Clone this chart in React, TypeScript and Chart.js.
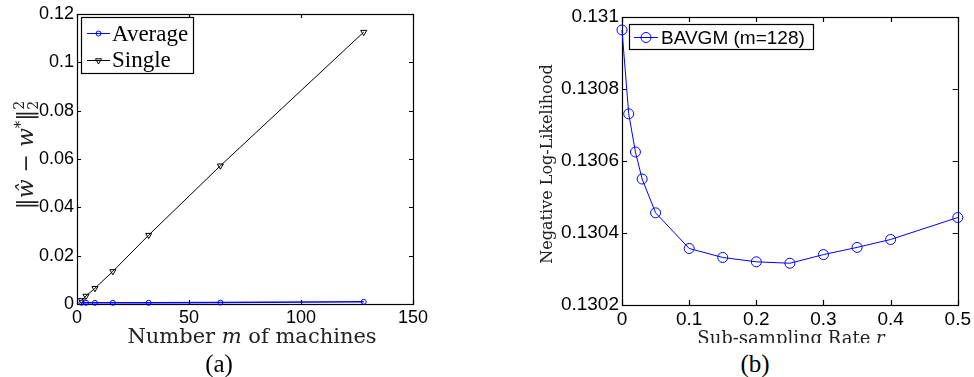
import React, { useEffect, useRef } from 'react';
import { Chart, registerables } from 'chart.js';

Chart.register(...registerables);

// ---------- Data: panel (a) ----------
const machines = [2, 4, 8, 16, 32, 64, 128];
const averageError = [0.0005, 0.0005, 0.0005, 0.0005, 0.0005, 0.0006, 0.0009];
const singleError = [0.0015, 0.0033, 0.0065, 0.0135, 0.0285, 0.0572, 0.1125];
const leftXTicks = [0, 50, 100, 150];
const leftYTicks = [0, 0.02, 0.04, 0.06, 0.08, 0.1, 0.12];

// ---------- Data: panel (b) ----------
const rates = [0, 0.01, 0.02, 0.03, 0.05, 0.1, 0.15, 0.2, 0.25, 0.3, 0.35, 0.4, 0.5];
const bavgmNll = [
  0.130964, 0.130731, 0.130625, 0.13055, 0.130456, 0.130357, 0.130332, 0.13032,
  0.130316, 0.13034, 0.13036, 0.130382, 0.130443,
];
const rightXTicks = [0, 0.1, 0.2, 0.3, 0.4, 0.5];
const rightYTicks = [0.1302, 0.1304, 0.1306, 0.1308, 0.131];

const SANS = '"Liberation Sans", Arial, sans-serif';
const SERIF_TIMES = '"Liberation Serif", "Times New Roman", serif';
const SERIF_CM = '"DejaVu Serif", serif';

type Seg = { text: string; italic?: boolean; size?: number; dy?: number; noAdvance?: boolean };

function drawRich(
  ctx: CanvasRenderingContext2D,
  segs: Seg[],
  family: string,
  baseSize: number,
  color: string,
  cx: number,
  baseline: number,
  rotation: number
) {
  ctx.save();
  ctx.translate(cx, baseline);
  ctx.rotate(rotation);
  ctx.fillStyle = color;
  ctx.textBaseline = 'alphabetic';
  ctx.textAlign = 'left';
  const fontOf = (s: Seg) => `${s.italic ? 'italic ' : ''}${s.size ?? baseSize}px ${family}`;
  let total = 0;
  segs.forEach((s) => {
    ctx.font = fontOf(s);
    if (!s.noAdvance) total += ctx.measureText(s.text).width;
  });
  let x = -total / 2;
  segs.forEach((s) => {
    ctx.font = fontOf(s);
    ctx.fillText(s.text, x, s.dy ?? 0);
    if (!s.noAdvance) x += ctx.measureText(s.text).width;
  });
  ctx.restore();
}

function drawMarker(ctx: CanvasRenderingContext2D, style: string, x: number, y: number, r: number) {
  ctx.beginPath();
  if (style === 'circle') {
    ctx.arc(x, y, r, 0, Math.PI * 2);
  } else {
    for (let i = 0; i < 3; i++) {
      const ang = Math.PI + (i * 2 * Math.PI) / 3;
      const px = x + Math.sin(ang) * r;
      const py = y - Math.cos(ang) * r;
      if (i === 0) ctx.moveTo(px, py);
      else ctx.lineTo(px, py);
    }
    ctx.closePath();
  }
  ctx.stroke();
}

type LegendItem = { text: string; color: string; marker: string; radius: number; lineY: number; textBaseline: number };
type PanelDecor = {
  tickLength: number;
  legend: {
    x: number; y: number; w: number; h: number;
    lineX0: number; lineX1: number; textX: number; font: string;
    items: LegendItem[];
  };
  xTitle: { segs: Seg[]; size: number; cx: number; baseline: number };
  yTitle: { segs: Seg[]; size: number; cy: number; baseline: number };
};

function makeDecorPlugin(d: PanelDecor) {
  return {
    id: 'panelDecor',
    beforeDatasetsDraw(chart: any) {
      const { ctx, chartArea: a, scales } = chart;
      ctx.save();
      ctx.strokeStyle = '#000';
      ctx.lineWidth = 1.2;
      ctx.beginPath();
      const L = d.tickLength;
      scales.x.ticks.forEach((t: any) => {
        const px = Math.round(scales.x.getPixelForValue(t.value)) + 0.5;
        ctx.moveTo(px, a.bottom);
        ctx.lineTo(px, a.bottom - L);
        ctx.moveTo(px, a.top);
        ctx.lineTo(px, a.top + L);
      });
      scales.y.ticks.forEach((t: any) => {
        const py = Math.round(scales.y.getPixelForValue(t.value)) + 0.5;
        ctx.moveTo(a.left, py);
        ctx.lineTo(a.left + L, py);
        ctx.moveTo(a.right, py);
        ctx.lineTo(a.right - L, py);
      });
      ctx.stroke();
      ctx.strokeRect(Math.round(a.left) + 0.5, Math.round(a.top) + 0.5, Math.round(a.right - a.left), Math.round(a.bottom - a.top));
      ctx.restore();

      // axis titles
      drawRich(ctx, d.xTitle.segs, SERIF_CM, d.xTitle.size, '#222', d.xTitle.cx, d.xTitle.baseline, 0);
      drawRich(ctx, d.yTitle.segs, SERIF_CM, d.yTitle.size, '#222', d.yTitle.baseline, d.yTitle.cy, -Math.PI / 2);
    },
    afterDraw(chart: any) {
      const { ctx } = chart;
      const lg = d.legend;
      ctx.save();
      ctx.fillStyle = '#fff';
      ctx.fillRect(lg.x, lg.y, lg.w, lg.h);
      ctx.strokeStyle = '#000';
      ctx.lineWidth = 1.2;
      ctx.strokeRect(lg.x + 0.5, lg.y + 0.5, lg.w, lg.h);
      lg.items.forEach((it) => {
        ctx.strokeStyle = it.color;
        ctx.lineWidth = 1;
        ctx.beginPath();
        ctx.moveTo(lg.lineX0, it.lineY);
        ctx.lineTo(lg.lineX1, it.lineY);
        ctx.stroke();
        drawMarker(ctx, it.marker, (lg.lineX0 + lg.lineX1) / 2, it.lineY, it.radius);
        ctx.fillStyle = '#000';
        ctx.font = lg.font;
        ctx.textBaseline = 'alphabetic';
        ctx.textAlign = 'left';
        ctx.fillText(it.text, lg.textX, it.textBaseline);
      });
      ctx.restore();
    },
  };
}

const fmt = (v: number) => String(Number(v.toFixed(5)));

function axisOptions(ticks: number[], min: number, max: number, fit: (s: any) => void, size: number) {
  return {
    type: 'linear',
    min,
    max,
    afterBuildTicks: (s: any) => {
      s.ticks = ticks.map((v) => ({ value: v }));
    },
    afterFit: fit,
    grid: { display: false, drawTicks: false },
    border: { display: false },
    title: { display: false },
    ticks: {
      font: { family: SANS, size },
      color: '#000',
      padding: 3,
      maxRotation: 0,
      autoSkip: false,
      callback: (v: any) => fmt(Number(v)),
    },
  };
}

function leftConfig(): any {
  const decor = makeDecorPlugin({
    tickLength: 4,
    legend: {
      x: 81, y: 17, w: 112, h: 56,
      lineX0: 87, lineX1: 110, textX: 112,
      font: `23px ${SERIF_TIMES}`,
      items: [
        { text: 'Average', color: '#0000ff', marker: 'circle', radius: 2.5, lineY: 33.5, textBaseline: 41 },
        { text: 'Single', color: '#000', marker: 'triangle', radius: 3.5, lineY: 60.5, textBaseline: 67 },
      ],
    },
    xTitle: {
      segs: [{ text: 'Number ' }, { text: 'm', italic: true }, { text: ' of machines' }],
      size: 21, cx: 252, baseline: 343,
    },
    yTitle: {
      segs: [
        { text: '‖' }, { text: 'ŵ', italic: true }, { text: ' − ' }, { text: 'w', italic: true },
        { text: '*', size: 15, dy: -8 }, { text: '‖' },
        { text: '2', size: 14, dy: -9, noAdvance: true }, { text: '2', size: 14, dy: 5 },
      ],
      size: 22, cy: 155, baseline: 33,
    },
  });
  return {
    type: 'line',
    data: {
      datasets: [
        {
          label: 'Average',
          data: machines.map((m, i) => ({ x: m, y: averageError[i] })),
          borderColor: '#0000ff',
          borderWidth: 1.5,
          pointStyle: 'circle',
          pointRadius: 2.5,
          pointBorderColor: '#0000ff',
          pointBackgroundColor: 'rgba(0,0,0,0)',
          pointBorderWidth: 1,
          clip: false,
        },
        {
          label: 'Single',
          data: machines.map((m, i) => ({ x: m, y: singleError[i] })),
          borderColor: '#000',
          borderWidth: 1,
          pointStyle: 'triangle',
          pointRotation: 180,
          pointRadius: 3.5,
          pointBorderColor: '#000',
          pointBackgroundColor: 'rgba(0,0,0,0)',
          pointBorderWidth: 1,
          clip: false,
        },
      ],
    },
    options: {
      responsive: false,
      animation: false,
      layout: { padding: { left: 0, top: 14, right: 74, bottom: 0 } },
      plugins: { legend: { display: false }, tooltip: { enabled: false } },
      scales: {
        x: axisOptions(leftXTicks, 0, 150, (s: any) => { s.height = 73; }, 18),
        y: axisOptions(leftYTicks, 0, 0.12, (s: any) => { s.width = 77; }, 18),
      },
    },
    plugins: [decor],
  };
}

function rightConfig(): any {
  const decor = makeDecorPlugin({
    tickLength: 5,
    legend: {
      x: 142, y: 24, w: 184, h: 25,
      lineX0: 147, lineX1: 171, textX: 174,
      font: `19px ${SANS}`,
      items: [
        { text: 'BAVGM (m=128)', color: '#0000ff', marker: 'circle', radius: 5, lineY: 37.5, textBaseline: 44 },
      ],
    },
    xTitle: {
      segs: [{ text: 'Sub-sampling Rate ' }, { text: 'r', italic: true }],
      size: 18, cx: 304, baseline: 344,
    },
    yTitle: {
      segs: [{ text: 'Negative Log-Likelihood' }],
      size: 16, cy: 164, baseline: 64.5,
    },
  });
  return {
    type: 'line',
    data: {
      datasets: [
        {
          label: 'BAVGM (m=128)',
          data: rates.map((r, i) => ({ x: r, y: bavgmNll[i] })),
          borderColor: '#0000ff',
          borderWidth: 1,
          pointStyle: 'circle',
          pointRadius: 5,
          pointBorderColor: '#0000ff',
          pointBackgroundColor: 'rgba(0,0,0,0)',
          pointBorderWidth: 1,
          clip: false,
        },
      ],
    },
    options: {
      responsive: false,
      animation: false,
      layout: { padding: { left: 0, top: 17, right: 14, bottom: 0 } },
      plugins: { legend: { display: false }, tooltip: { enabled: false } },
      scales: {
        x: axisOptions(rightXTicks, 0, 0.5, (s: any) => { s.height = 72; }, 19),
        y: axisOptions(rightYTicks, 0.1302, 0.131, (s: any) => { s.width = 135; }, 19),
      },
    },
    plugins: [decor],
  };
}

function ChartCanvas({ makeConfig, width, height }: { makeConfig: () => any; width: number; height: number }) {
  const ref = useRef<HTMLCanvasElement | null>(null);
  useEffect(() => {
    if (!ref.current) return;
    const chart = new Chart(ref.current, makeConfig());
    return () => chart.destroy();
  }, []);
  return <canvas ref={ref} width={width} height={height} style={{ display: 'block', width, height }} />;
}

const captionStyle: React.CSSProperties = {
  position: 'absolute',
  top: 351,
  width: 60,
  textAlign: 'center',
  fontFamily: SERIF_TIMES,
  fontSize: 25,
  lineHeight: '26px',
  color: '#000',
};

export default function App() {
  return (
    <div style={{ position: 'absolute', left: 0, top: 0, width: 974, height: 377, background: '#fff', overflow: 'hidden' }}>
      <div style={{ position: 'absolute', left: 0, top: 0, width: 487, height: 377 }}>
        <ChartCanvas makeConfig={leftConfig} width={487} height={377} />
      </div>
      <div style={{ position: 'absolute', left: 487, top: 0, width: 487, height: 343, overflow: 'hidden' }}>
        <ChartCanvas makeConfig={rightConfig} width={487} height={377} />
      </div>
      <div style={{ ...captionStyle, left: 219 - 30 }}>(a)</div>
      <div style={{ ...captionStyle, left: 755 - 30 }}>(b)</div>
    </div>
  );
}
